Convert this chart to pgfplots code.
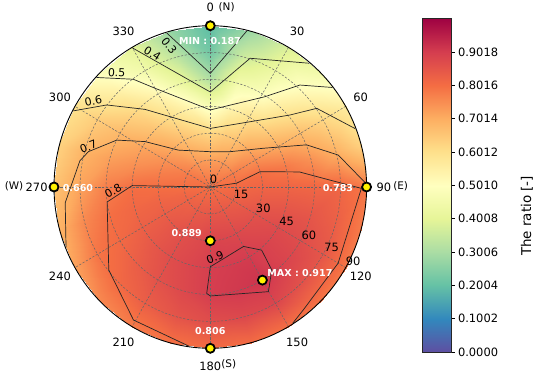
\documentclass[border=0pt]{standalone}
\usepackage{fontspec}
\setmainfont{DejaVu Sans}
\usepackage{pgfplots}
\pgfplotsset{compat=1.18}
\pgfplotsset{colormap={spectralr}{rgb255=(94,79,162) rgb255=(50,136,189) rgb255=(102,194,165) rgb255=(171,221,164) rgb255=(230,245,152) rgb255=(255,255,191) rgb255=(254,224,139) rgb255=(253,174,97) rgb255=(244,109,67) rgb255=(213,62,79) rgb255=(158,1,66)}}
\tikzset{gridst/.style={black!60, line width=0.5bp, dash pattern=on 2.2bp off 1.6bp},
  cont/.style={black!85, line width=0.7bp},
  tl/.style={font=\fontsize{11.5}{13}\selectfont, inner sep=0pt},
  sl/.style={font=\fontsize{10.5}{12}\selectfont, inner sep=0pt},
  cl/.style={font=\fontsize{11}{13}\selectfont, inner sep=0pt},
  wl/.style={font=\fontsize{9.6}{11}\selectfont\bfseries, text=white, inner sep=0pt}}
\begin{document}
\begin{tikzpicture}
\useasboundingbox (0,0) rectangle (539bp,373bp);
\begin{axis}[
  at={(210.3bp,186bp)}, anchor=center,
  x=1.7367bp, y=1.7922bp,
  xmin=-110, xmax=110, ymin=-110, ymax=110,
  hide axis, clip=false,
  colormap name=spectralr, point meta min=0, point meta max=1.002,
]
\addplot[surf, shader=interp, mesh/cols=25, mesh/rows=7, point meta=explicit]
 table[x expr={\thisrow{zen}*sin(\thisrow{az})}, y expr={\thisrow{zen}*cos(\thisrow{az})}, meta=v]{
az zen v
0 0 0.80
15 0 0.80
30 0 0.80
45 0 0.80
60 0 0.80
75 0 0.80
90 0 0.80
105 0 0.80
120 0 0.80
135 0 0.80
150 0 0.80
165 0 0.80
180 0 0.80
195 0 0.80
210 0 0.80
225 0 0.80
240 0 0.80
255 0 0.80
270 0 0.80
285 0 0.80
300 0 0.80
315 0 0.80
330 0 0.80
345 0 0.80
360 0 0.80
0 15 0.725
15 15 0.73
30 15 0.74
45 15 0.75
60 15 0.78
75 15 0.79
90 15 0.81
105 15 0.82
120 15 0.83
135 15 0.84
150 15 0.845
165 15 0.85
180 15 0.85
195 15 0.845
210 15 0.84
225 15 0.83
240 15 0.825
255 15 0.815
270 15 0.80
285 15 0.79
300 15 0.78
315 15 0.76
330 15 0.74
345 15 0.73
360 15 0.725
0 30 0.62
15 30 0.644
30 30 0.664
45 30 0.71
60 30 0.75
75 30 0.80
90 30 0.82
105 30 0.84
120 30 0.86
135 30 0.87
150 30 0.88
165 30 0.885
180 30 0.889
195 30 0.875
210 30 0.865
225 30 0.85
240 30 0.835
255 30 0.82
270 30 0.80
285 30 0.775
300 30 0.745
315 30 0.71
330 30 0.67
345 30 0.64
360 30 0.62
0 45 0.47
15 45 0.54
30 45 0.59
45 45 0.64
60 45 0.71
75 45 0.78
90 45 0.82
105 45 0.85
120 45 0.875
135 45 0.89
150 45 0.905
165 45 0.905
180 45 0.90
195 45 0.885
210 45 0.87
225 45 0.85
240 45 0.83
255 45 0.815
270 45 0.80
285 45 0.75
300 45 0.715
315 45 0.66
330 45 0.60
345 45 0.54
360 45 0.47
0 60 0.31
15 60 0.45
30 60 0.49
45 60 0.58
60 60 0.67
75 60 0.745
90 60 0.815
105 60 0.85
120 60 0.87
135 60 0.89
150 60 0.917
165 60 0.91
180 60 0.902
195 60 0.88
210 60 0.86
225 60 0.835
240 60 0.81
255 60 0.80
270 60 0.775
285 60 0.725
300 60 0.68
315 60 0.615
330 60 0.53
345 60 0.42
360 60 0.31
0 75 0.22
15 75 0.36
30 75 0.43
45 75 0.52
60 75 0.62
75 75 0.695
90 75 0.815
105 75 0.83
120 75 0.85
135 75 0.86
150 75 0.885
165 75 0.88
180 75 0.87
195 75 0.855
210 75 0.835
225 75 0.81
240 75 0.79
255 75 0.76
270 75 0.72
285 75 0.69
300 75 0.64
315 75 0.55
330 75 0.45
345 75 0.33
360 75 0.22
0 90 0.187
15 90 0.28
30 90 0.38
45 90 0.45
60 90 0.56
75 90 0.63
90 90 0.783
105 90 0.78
120 90 0.785
135 90 0.79
150 90 0.80
165 90 0.805
180 90 0.806
195 90 0.795
210 90 0.78
225 90 0.76
240 90 0.72
255 90 0.69
270 90 0.66
285 90 0.63
300 90 0.595
315 90 0.49
330 90 0.40
345 90 0.27
360 90 0.187
};
% grid rings and spokes
\pgfplotsinvokeforeach{15,30,45,60,75}{
  \addplot[gridst, domain=0:360, samples=145] ({#1*sin(x)},{#1*cos(x)});
}
\addplot[gridst] coordinates {(0,90) (0,-90)};
\addplot[gridst] coordinates {(45,77.94) (-45,-77.94)};
\addplot[gridst] coordinates {(77.94,45) (-77.94,-45)};
\addplot[gridst] coordinates {(90,0) (-90,0)};
\addplot[gridst] coordinates {(77.94,-45) (-77.94,45)};
\addplot[gridst] coordinates {(45,-77.94) (-45,77.94)};
% contours
\addplot[cont] table[x expr={\thisrow{zen}*sin(\thisrow{az})}, y expr={\thisrow{zen}*cos(\thisrow{az})}]{
az zen
343.7 89.6
0 63.4
13.6 89.6
};
\addplot[cont] table[x expr={\thisrow{zen}*sin(\thisrow{az})}, y expr={\thisrow{zen}*cos(\thisrow{az})}]{
az zen
330 89.6
0 53
17.7 75.4
39.6 89.6
};
\addplot[cont] table[x expr={\thisrow{zen}*sin(\thisrow{az})}, y expr={\thisrow{zen}*cos(\thisrow{az})}]{
az zen
313 89.6
323.6 74.7
330 63.6
0 43
32 59.4
42.2 76.8
51.7 89.6
};
\addplot[cont] table[x expr={\thisrow{zen}*sin(\thisrow{az})}, y expr={\thisrow{zen}*cos(\thisrow{az})}]{
az zen
298.3 89.6
307.5 75.2
319 57.4
0 32.7
37.4 47
48.8 61
54.4 75.4
68.7 89.6
};
\addplot[cont] table[x expr={\thisrow{zen}*sin(\thisrow{az})}, y expr={\thisrow{zen}*cos(\thisrow{az})}]{
az zen
248 89.6
264 84
281 76.5
285.7 72.9
295.9 59.9
304 45.3
318.2 27.6
0 19.7
29.8 22.7
54.7 37.4
67 60.2
76.4 75.8
88.7 89.6
};
\addplot[cont] table[x expr={\thisrow{zen}*sin(\thisrow{az})}, y expr={\thisrow{zen}*cos(\thisrow{az})}]{
az zen
188 89.6
210.8 86.4
231.6 74.6
262 60
271 45
0 0
82 15.3
73.4 29.9
80.7 52
86.8 69
90.5 87
120 85
142 87
148 89.6
};
\addplot[cont] table[x expr={\thisrow{zen}*sin(\thisrow{az})}, y expr={\thisrow{zen}*cos(\thisrow{az})}]{
az zen
180 44.5
150 38.3
140 46
142.6 58.3
150.2 67.3
180 60.8
182 59.4
180 44.5
};
% outer circle
\addplot[black, line width=0.9bp, domain=0:360, samples=181] ({90*sin(x)},{90*cos(x)});
% markers
\addplot[only marks, mark=*, mark size=4.5bp, mark options={fill=yellow, draw=black, line width=1.8bp}]
 table[x expr={\thisrow{zen}*sin(\thisrow{az})}, y expr={\thisrow{zen}*cos(\thisrow{az})}]{
az zen
0 90
90 90
180 90
270 90
180 30
150 60
};
% azimuth labels
\node[tl] at (axis cs:0,100) {0};
\node[sl] at (axis cs:9.4,100.4) {(N)};
\node[tl] at (axis cs:50,86.6) {30};
\node[tl] at (axis cs:86.6,50) {60};
\node[tl] at (axis cs:100,0) {90};
\node[sl] at (axis cs:109.6,0.2) {(E)};
\node[tl] at (axis cs:86.6,-50) {120};
\node[tl] at (axis cs:50,-86.6) {150};
\node[tl] at (axis cs:0,-100) {180};
\node[sl] at (axis cs:10.6,-99) {(S)};
\node[tl] at (axis cs:-50,-86.6) {210};
\node[tl] at (axis cs:-86.6,-50) {240};
\node[tl] at (axis cs:-100,0) {270};
\node[sl] at (axis cs:-113,0.2) {(W)};
\node[tl] at (axis cs:-86.6,50) {300};
\node[tl] at (axis cs:-50,86.6) {330};
% zenith labels
\node[tl] at (axis cs:1.9,4.2) {0};
\node[tl] at (axis cs:17.7,-4.1) {15};
\node[tl] at (axis cs:30.5,-11.7) {30};
\node[tl] at (axis cs:44,-19.1) {45};
\node[tl] at (axis cs:56.8,-26.8) {60};
\node[tl] at (axis cs:69.9,-33.8) {75};
\node[tl] at (axis cs:82.2,-41.6) {90};
% contour labels
\node[cl, rotate=-52] at (axis cs:-23.7,78.8) {0.3};
\node[cl, rotate=-32] at (axis cs:-33.3,74.4) {0.4};
\node[cl, rotate=-3] at (axis cs:-53.9,63.7) {0.5};
\node[cl, rotate=12] at (axis cs:-67.4,48) {0.6};
\node[cl, rotate=22] at (axis cs:-70.2,22.5) {0.7};
\node[cl, rotate=30] at (axis cs:-55.9,-2.1) {0.8};
\node[cl, rotate=22] at (axis cs:2.7,-39.3) {0.9};
% value labels
\node[wl] at (axis cs:-0.2,81.7) {MIN : 0.187};
\node[wl] at (axis cs:73.5,-0.3) {0.783};
\node[wl] at (axis cs:-76.2,-0.3) {0.660};
\node[wl] at (axis cs:0,-80.4) {0.806};
\node[wl] at (axis cs:-13.6,-25.7) {0.889};
\node[wl] at (axis cs:51.6,-48) {MAX : 0.917};
\end{axis}
\begin{axis}[
  at={(422bp,21bp)}, anchor=south west, scale only axis,
  width=29bp, height=333.4bp,
  xmin=0, xmax=1, ymin=0, ymax=1.002,
  xtick=\empty,
  ytick={0,0.1002,0.2004,0.3006,0.4008,0.5010,0.6012,0.7014,0.8016,0.9018},
  yticklabels={0.0000,0.1002,0.2004,0.3006,0.4008,0.5010,0.6012,0.7014,0.8016,0.9018},
  ytick pos=right, yticklabel pos=right, tick align=outside,
  major tick length=3.5bp,
  tick style={black, line width=0.6bp},
  axis line style={black!85, line width=0.7bp},
  yticklabel style={font=\fontsize{11.5}{13}\selectfont},
  colormap name=spectralr, point meta min=0, point meta max=1.002,
  axis on top,
]
\addplot[surf, shader=interp, mesh/cols=2, mesh/rows=12, point meta=explicit] table[meta=c]{
x y c
0 0 0
1 0 0
0 0.1 0.1
1 0.1 0.1
0 0.2 0.2
1 0.2 0.2
0 0.3 0.3
1 0.3 0.3
0 0.4 0.4
1 0.4 0.4
0 0.5 0.5
1 0.5 0.5
0 0.6 0.6
1 0.6 0.6
0 0.7 0.7
1 0.7 0.7
0 0.8 0.8
1 0.8 0.8
0 0.9 0.9
1 0.9 0.9
0 1.0 1.0
1 1.0 1.0
0 1.002 1.002
1 1.002 1.002
};
\end{axis}
\node[rotate=90, font=\fontsize{13.5}{15}\selectfont, inner sep=0pt] at (527bp,157bp) {The ratio [-]};
\end{tikzpicture}
\end{document}
